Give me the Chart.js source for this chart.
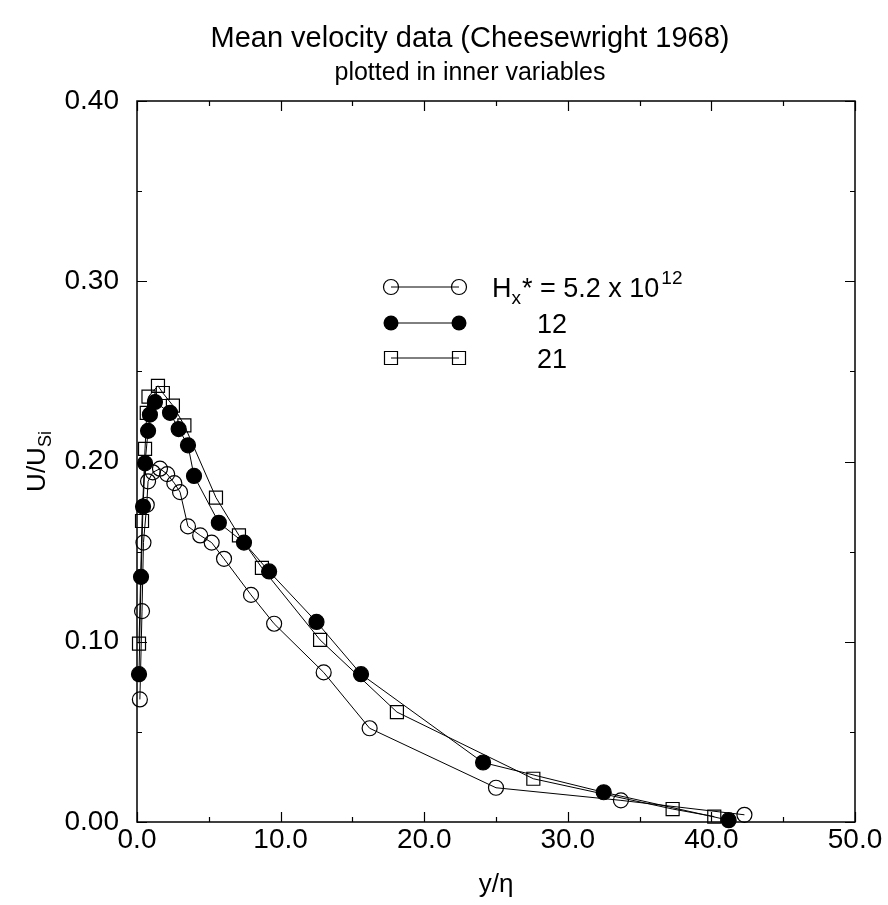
<!DOCTYPE html>
<html><head><meta charset="utf-8">
<script src="https://cdn.jsdelivr.net/npm/chart.js@4/dist/chart.umd.min.js"></script>
<style>html,body{margin:0;padding:0;background:#fff;}</style>
</head><body>
<canvas id="c" width="888" height="905"></canvas>
<script>
// ---- text ----
const titleText = 'Mean velocity data (Cheesewright 1968)';
const subtitleText = 'plotted in inner variables';
const xAxisTitle = 'y/\u03B7';
const yAxisTitleMain = 'U/U';
const yAxisTitleSub = 'Si';
const legendLabels = ['5.2', '12', '21'];

// ---- axes ----
const xMin = 0, xMax = 50, xStep = 10, xMinorStep = 5;
const yMin = 0, yMax = 0.4, yStep = 0.1, yMinorStep = 0.05;

// ---- series: Hx* = 5.2 x 10^12 (open circles) ----
const xOpen = [0.2, 0.35, 0.45, 0.68, 0.77, 1.1, 1.6, 2.1, 2.6, 3.0, 3.55, 4.4, 5.2, 6.06, 7.94, 9.55, 13.0, 16.2, 25.0, 33.7, 42.3];
const yOpen = [0.068, 0.117, 0.155, 0.176, 0.189, 0.194, 0.196, 0.193, 0.188, 0.183, 0.164, 0.159, 0.155, 0.146, 0.126, 0.110, 0.083, 0.052, 0.019, 0.012, 0.004];

// ---- series: 12 (filled circles) ----
const xFilled = [0.14, 0.28, 0.42, 0.56, 0.77, 0.9, 1.25, 2.3, 2.9, 3.55, 3.97, 5.7, 7.45, 9.2, 12.5, 15.6, 24.1, 32.5, 41.2];
const yFilled = [0.082, 0.136, 0.175, 0.199, 0.217, 0.226, 0.233, 0.227, 0.218, 0.209, 0.192, 0.166, 0.155, 0.139, 0.111, 0.082, 0.033, 0.0165, 0.001];

// ---- series: 21 (open squares) ----
const xSquare = [0.14, 0.35, 0.56, 0.68, 0.8, 1.46, 1.8, 2.5, 3.3, 5.5, 7.1, 8.7, 12.75, 18.1, 27.6, 37.3, 40.2];
const ySquare = [0.099, 0.167, 0.207, 0.227, 0.236, 0.242, 0.238, 0.231, 0.220, 0.180, 0.159, 0.141, 0.101, 0.061, 0.024, 0.0072, 0.003];

function pts(xs, ys) { return xs.map((x, i) => ({x: x, y: ys[i]})); }

const FONT = '"Liberation Sans", Arial, Helvetica, sans-serif';

const frameTicks = {
  id: 'frameTicks',
  beforeDatasetsDraw(chart) {
    const {ctx, chartArea: a, scales: {x, y}} = chart;
    ctx.save();
    ctx.strokeStyle = '#000';
    ctx.lineWidth = 1.5;
    ctx.strokeRect(a.left, a.top, a.right - a.left, a.bottom - a.top);
    ctx.lineWidth = 1.2;
    ctx.beginPath();
    for (let v = xMin; v <= xMax + 1e-9; v += xMinorStep) {
      const px = Math.round(x.getPixelForValue(v)) + 0.5;
      const major = Math.abs(v / xStep - Math.round(v / xStep)) < 1e-6;
      const L = major ? 10 : 5;
      ctx.moveTo(px, a.bottom); ctx.lineTo(px, a.bottom - L);
      ctx.moveTo(px, a.top); ctx.lineTo(px, a.top + L);
    }
    for (let v = yMin; v <= yMax + 1e-9; v += yMinorStep) {
      const py = Math.round(y.getPixelForValue(v)) + 0.5;
      const major = Math.abs(v / yStep - Math.round(v / yStep)) < 1e-6;
      const L = major ? 10 : 5;
      ctx.moveTo(a.left, py); ctx.lineTo(a.left + L, py);
      ctx.moveTo(a.right, py); ctx.lineTo(a.right - L, py);
    }
    ctx.stroke();
    ctx.restore();
  }
};

function marker(ctx, style, x, y) {
  ctx.beginPath();
  if (style === 'rect') {
    ctx.rect(x - 6.5, y - 6.5, 13, 13);
    ctx.stroke();
  } else {
    ctx.arc(x, y, 7.5, 0, Math.PI * 2);
    if (style === 'filled') ctx.fill(); else ctx.stroke();
  }
}

const customText = {
  id: 'customText',
  afterDraw(chart) {
    const {ctx, chartArea: a} = chart;
    ctx.save();
    ctx.fillStyle = '#000';
    ctx.strokeStyle = '#000';
    // legend
    const lx0 = a.left + 254, lx1 = a.left + 322;
    const rows = [a.top + 186, a.top + 222, a.top + 257];
    const styles = ['open', 'filled', 'rect'];
    rows.forEach((ry, i) => {
      ctx.lineWidth = 1;
      ctx.beginPath(); ctx.moveTo(lx0, ry); ctx.lineTo(lx1, ry); ctx.stroke();
      ctx.lineWidth = 1.2;
      marker(ctx, styles[i], lx0, ry);
      marker(ctx, styles[i], lx1, ry);
    });
    ctx.textBaseline = 'alphabetic';
    ctx.textAlign = 'left';
    // row 1: H_x* = 5.2 x 10^12
    let tx = a.left + 355, base = rows[0] + 10;
    ctx.font = '27px ' + FONT;
    ctx.fillText('H', tx, base); tx += ctx.measureText('H').width;
    ctx.font = '19px ' + FONT;
    ctx.fillText('x', tx, base + 7); tx += ctx.measureText('x').width + 1;
    ctx.font = '27px ' + FONT;
    const mid = '* = ' + legendLabels[0] + ' x 10';
    ctx.fillText(mid, tx, base); tx += ctx.measureText(mid).width + 2;
    ctx.font = '19px ' + FONT;
    ctx.fillText('12', tx, base - 13);
    ctx.font = '27px ' + FONT;
    ctx.fillText(legendLabels[1], a.left + 400, rows[1] + 10);
    ctx.fillText(legendLabels[2], a.left + 400, rows[2] + 10);
    // y axis title (rotated, with subscript)
    ctx.save();
    ctx.translate(45, (a.top + a.bottom) / 2);
    ctx.rotate(-Math.PI / 2);
    ctx.font = '26px ' + FONT;
    const wMain = ctx.measureText(yAxisTitleMain).width;
    ctx.font = '18px ' + FONT;
    const wSub = ctx.measureText(yAxisTitleSub).width;
    let sx = -(wMain + wSub) / 2;
    ctx.font = '26px ' + FONT;
    ctx.fillText(yAxisTitleMain, sx, 0);
    ctx.font = '18px ' + FONT;
    ctx.fillText(yAxisTitleSub, sx + wMain, 6);
    ctx.restore();
    ctx.restore();
  }
};

const common = {borderColor: '#000', borderWidth: 1, showLine: true, pointBorderColor: '#000',
  pointBorderWidth: 1.2, pointHoverRadius: 7.5, clip: false, tension: 0};

new Chart(document.getElementById('c'), {
  type: 'scatter',
  data: {
    datasets: [
      Object.assign({label: 'Hx* = 5.2 x 10^12', data: pts(xOpen, yOpen), pointStyle: 'circle', pointRadius: 7.5,
        pointBackgroundColor: 'rgba(0,0,0,0)', backgroundColor: 'rgba(0,0,0,0)'}, common),
      Object.assign({label: '12', data: pts(xFilled, yFilled), pointStyle: 'circle', pointRadius: 7.5,
        pointBackgroundColor: '#000', backgroundColor: '#000'}, common),
      Object.assign({label: '21', data: pts(xSquare, ySquare), pointStyle: 'rect', pointRadius: 9.2,
        pointBackgroundColor: 'rgba(0,0,0,0)', backgroundColor: 'rgba(0,0,0,0)'}, common)
    ]
  },
  options: {
    responsive: false,
    animation: false,
    devicePixelRatio: 1,
    layout: {padding: {left: 52, right: 0, top: 0, bottom: 0}},
    plugins: {
      legend: {display: false},
      tooltip: {enabled: false},
      title: {display: true, text: titleText, color: '#000',
        font: {family: FONT, size: 29, weight: 'normal'}, padding: {top: 21.6, bottom: 0}},
      subtitle: {display: true, text: subtitleText, color: '#000',
        font: {family: FONT, size: 25, weight: 'normal'}, padding: {top: 1.6, bottom: 13}}
    },
    scales: {
      x: {type: 'linear', position: 'bottom', min: xMin, max: xMax,
        grid: {display: false, drawTicks: false}, border: {display: false},
        ticks: {stepSize: xStep, color: '#000', padding: 1, maxRotation: 0,
          font: {family: FONT, size: 28}, callback: v => Number(v).toFixed(1)},
        title: {display: true, text: xAxisTitle, color: '#000', font: {family: FONT, size: 26},
          padding: {top: 0, bottom: 5}},
        afterFit: s => { s.height = 83; }},
      y: {type: 'linear', position: 'left', min: yMin, max: yMax,
        grid: {display: false, drawTicks: false}, border: {display: false},
        ticks: {stepSize: yStep, color: '#000', padding: 18,
          font: {family: FONT, size: 28}, callback: v => Number(v).toFixed(2)},
        afterFit: s => { s.width = 85; }},
      y2: {type: 'linear', position: 'right', display: true,
        grid: {display: false, drawTicks: false}, border: {display: false}, ticks: {display: false},
        afterFit: s => { s.width = 33; }}
    }
  },
  plugins: [frameTicks, customText]
});
</script>
</body></html>
